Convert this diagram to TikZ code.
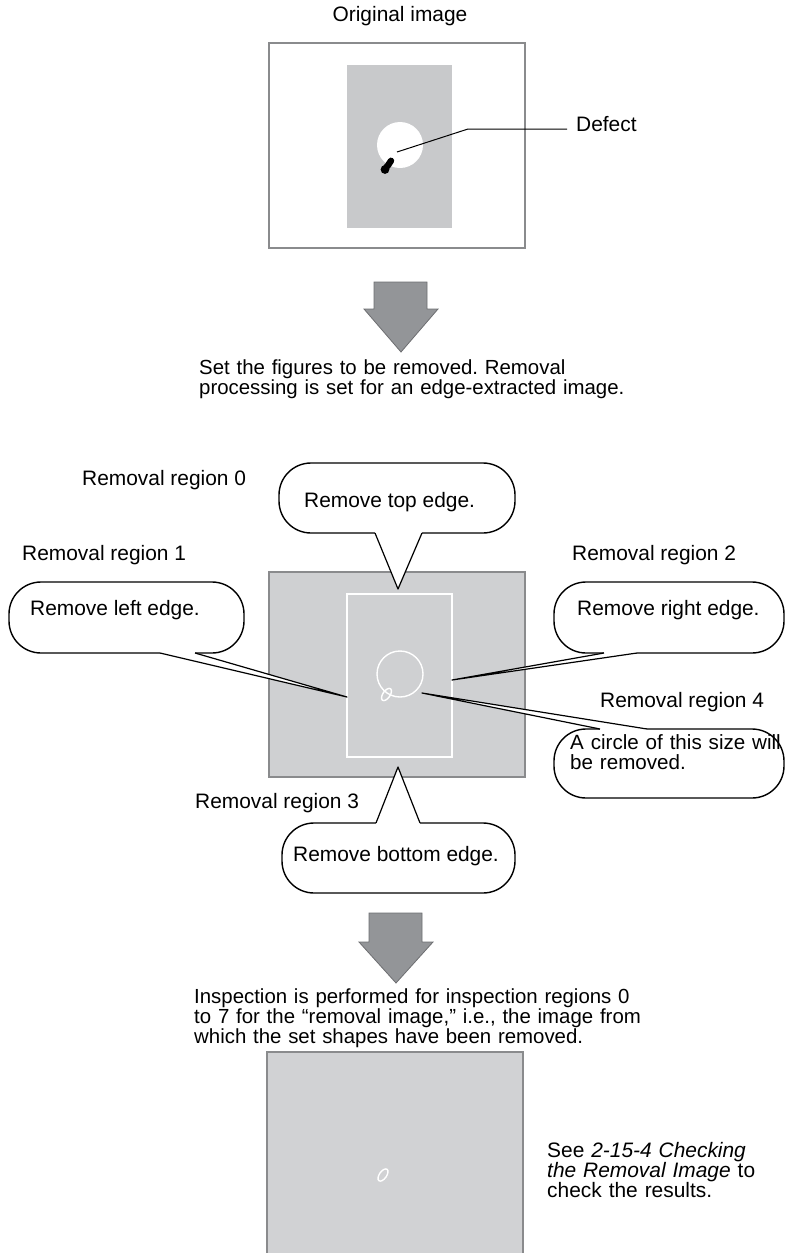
\documentclass[tikz,border=0pt]{standalone}
\usepackage{fontspec}
\setmainfont{Liberation Sans}
\frenchspacing
\definecolor{framegray}{HTML}{8A8B8D}
\definecolor{innergray}{HTML}{C8C9CB}
\definecolor{midgray}{HTML}{CFD0D2}
\definecolor{botgray}{HTML}{D1D2D4}
\definecolor{arrowgray}{HTML}{939598}
\definecolor{arrowedge}{HTML}{6D6E71}
\begin{document}
\begin{tikzpicture}[x=1pt,y=-1pt,
  txt/.style={font=\fontsize{20.9pt}{20.3pt}\selectfont, inner sep=0pt, anchor=base west},
  para/.style={txt, font=\fontsize{20.4pt}{20.2pt}\selectfont, text width=470pt, align=left},
  frame/.style={draw=framegray, line width=1.6pt},
  bubble/.style={draw=black, fill=white, line width=1.4pt, rounded corners=32pt},
  wedge/.style={draw=black, line width=1.2pt, line join=round},
  bigarrow/.style={fill=arrowgray, draw=arrowedge, line width=0.8pt, line join=miter},
  whiteline/.style={draw=white, line width=1.4pt}]

\useasboundingbox (0,0) rectangle (788,1253);

% ---------- original image ----------
\node[txt, anchor=base] (title) at (400,21) {Original image};
\draw[frame, fill=white] (269,43) rectangle (525,248);
\fill[innergray] (347,65) rectangle (452,228);
\fill[white] (400,145) circle[radius=23pt];
\fill (385,169.5) circle[radius=4.4pt];
\draw[line width=6.4pt, line cap=round] (385,169.5) .. controls (387,165.5) and (389.5,164.5) .. (391,160.8);
\coordinate (defpt) at (397,152);
\coordinate (defbend) at (468,129);
\coordinate (defend) at (567,129);
\node[txt] (defect) at (576,131) {Defect};
\draw[line width=1pt] (defpt) -- (defbend) -- (defend);

% ---------- arrow 1 ----------
\draw[bigarrow] (374,282) -- (427,282) -- (427,309) -- (438,309) -- (401,352) -- (364,309) -- (374,309) -- cycle;
\node[para] (t1) at (199,374) {Set the figures to be removed. Removal\\processing is set for an edge-extracted image.};

% ---------- removal settings ----------
\node[txt] (r0) at (82,485) {Removal region 0};
\node[txt] (r1) at (22,560) {Removal region 1};
\node[txt] (r2) at (572,560) {Removal region 2};
\node[txt] (r4) at (600,707) {Removal region 4};
\node[txt] (r3) at (195,808) {Removal region 3};

\draw[frame, fill=midgray] (269,572) rectangle (525,777);
\draw[whiteline] (347,594) rectangle (452,757);
\draw[whiteline] (400,674) circle[radius=23pt];
\draw[whiteline, rotate around={55:(386.5,694.5)}] (386.5,694.5) ellipse[x radius=7pt, y radius=3.6pt];

\coordinate (tipT) at (398,589);
\coordinate (tipL) at (347,697);
\coordinate (tipR) at (452,680);
\coordinate (tip4) at (422,693);
\coordinate (tipB) at (398,767);

% top callout
\draw[bubble] (279,463) rectangle (515,533);
\fill[white] (376,528) -- (375,533) -- (tipT) -- (422,533) -- (421,528) -- cycle;
\draw[wedge] (375,533) -- (tipT) -- (422,533);
\node[txt] (ct) at (304,507) {Remove top edge.};

% left callout
\draw[bubble] (9,582) rectangle (244,653);
\fill[white] (161,648) -- (160,653) -- (tipL) -- (195,653) -- (194,648) -- cycle;
\draw[wedge] (160,653) -- (tipL) -- (195,653);
\node[txt] (cl) at (30,615) {Remove left edge.};

% right callout
\draw[bubble] (554,582) rectangle (784,653);
\fill[white] (605,648) -- (604,653) -- (tipR) -- (637,653) -- (636,648) -- cycle;
\draw[wedge] (604,653) -- (tipR) -- (637,653);
\node[txt] (cr) at (577,615) {Remove right edge.};

% region 4 callout
\draw[bubble] (554,729) rectangle (784,798);
\fill[white] (601,734) -- (600,729) -- (tip4) -- (647,729) -- (646,734) -- cycle;
\draw[wedge] (600,729) -- (tip4) -- (647,729);
\node[para, font=\fontsize{20.6pt}{20.2pt}\selectfont, text width=220pt] (c4) at (570,749) {A circle of this size will\\be removed.};

% bottom callout
\draw[bubble] (282,823) rectangle (515,893);
\fill[white] (377,828) -- (376,823) -- (tipB) -- (420,823) -- (419,828) -- cycle;
\draw[wedge] (376,823) -- (tipB) -- (420,823);
\node[txt] (cb) at (293,861) {Remove bottom edge.};

% ---------- arrow 2 ----------
\draw[bigarrow] (369,913) -- (422,913) -- (422,942) -- (433,942) -- (396,983) -- (359,942) -- (369,942) -- cycle;
\node[para] (t3) at (194,1003) {Inspection is performed for inspection regions 0\\to 7 for the “removal image,” i.e., the image from\\which the set shapes have been removed.};

% ---------- removal image ----------
\draw[frame, fill=botgray] (267,1052) rectangle (523,1262);
\draw[whiteline, rotate around={55:(383,1175)}] (383,1175) ellipse[x radius=7pt, y radius=3.6pt];
\node[para, font=\fontsize{20.9pt}{20.2pt}\selectfont, text width=240pt] (see) at (547,1157) {See \textit{2-15-4 Checking}\\\textit{the Removal Image} to\\check the results.};
\end{tikzpicture}
\end{document}
